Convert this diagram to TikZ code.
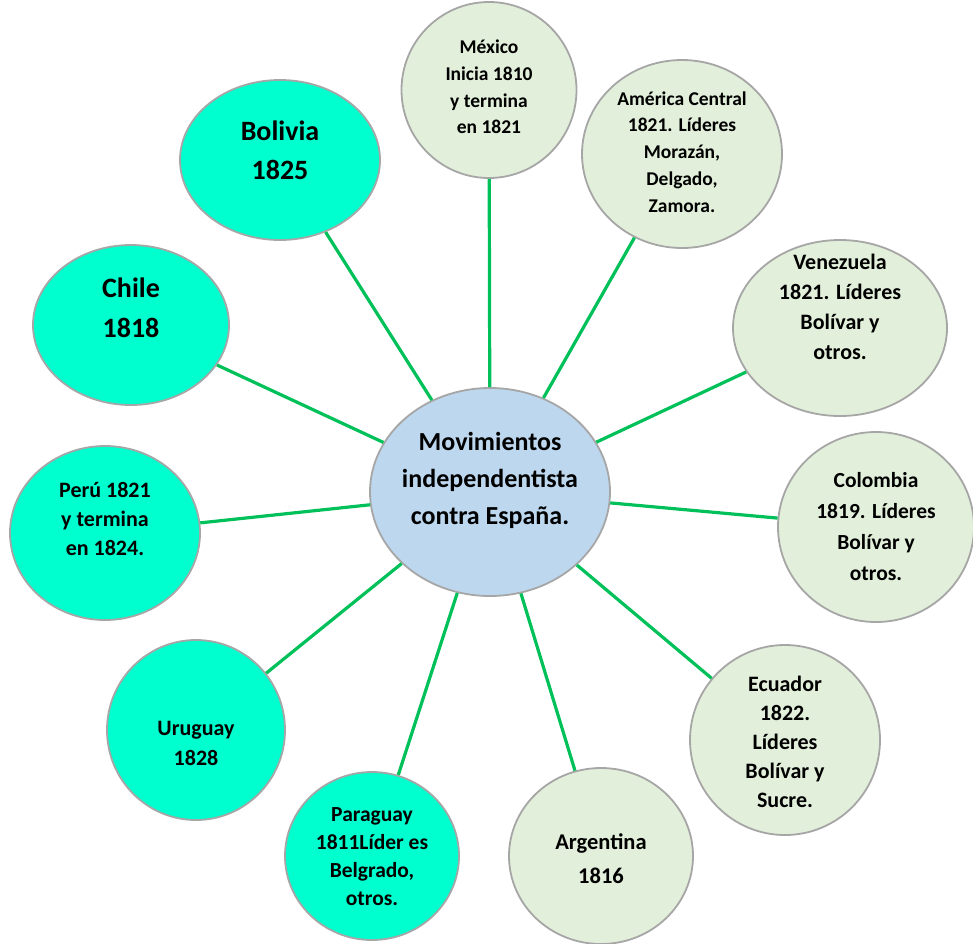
\documentclass[tikz,border=0pt]{standalone}
\usepackage{fontspec}
\setmainfont{Carlito}
\usepackage{tikz}
\usetikzlibrary{shapes.geometric}

\definecolor{palegreen}{HTML}{E2EFDA}
\definecolor{paleblue}{HTML}{BDD7EE}
\definecolor{aquagreen}{HTML}{00FFCF}
\definecolor{linkgreen}{HTML}{00C05A}
\definecolor{rimgray}{HTML}{A6A6A6}

\newcommand{\setfs}[2]{\fontsize{#1}{#2}\selectfont\bfseries}

\begin{document}
\begin{tikzpicture}[x=1pt, y=-1pt,
	bubble/.style={ellipse, draw=rimgray, line width=1.8pt, inner sep=0pt},
	pale/.style={bubble, fill=palegreen},
	aqua/.style={bubble, fill=aquagreen},
	hub/.style={bubble, fill=paleblue},
	link/.style={draw=linkgreen, line width=3.2pt}]

\useasboundingbox (0,0) rectangle (973,943);

% centre
\node[hub, minimum width=240pt, minimum height=208pt,
	label={[align=center, font=\setfs{26}{37}, yshift=12pt]center:Movimientos\\independentista\\contra España.}] (mov) at (490,492) {};

% right side (pale green)
\node[pale, minimum width=175pt, minimum height=176pt,
	label={[align=center, font=\setfs{19.5}{26.7}, yshift=3pt]center:México\\Inicia 1810\\y termina\\en 1821}] (mex) at (489,90) {};
\node[pale, minimum width=200pt, minimum height=188pt,
	label={[align=center, font=\setfs{19.5}{26.8}, yshift=2pt]center:América Central\\1821. Líderes\\Morazán,\\Delgado,\\Zamora.}] (amc) at (682,154) {};
\node[pale, minimum width=214pt, minimum height=176pt,
	label={[align=center, font=\setfs{22}{30}, yshift=21pt]center:Venezuela\\1821. Líderes\\Bolívar y\\otros.}] (ven) at (840,328) {};
\node[pale, minimum width=196pt, minimum height=190pt,
	label={[align=center, font=\setfs{21.5}{31}]center:Colombia\\1819. Líderes\\Bolívar y\\otros.}] (col) at (876,527) {};
\node[pale, minimum width=190pt, minimum height=190pt,
	label={[align=center, font=\setfs{22}{29}, yshift=-2pt]center:Ecuador\\1822.\\Líderes\\Bolívar y\\Sucre.}] (ecu) at (785,740) {};
\node[pale, minimum width=184pt, minimum height=176pt,
	label={[align=center, font=\setfs{22.5}{34}, yshift=-3pt]center:Argentina\\1816}] (arg) at (601,856) {};

% left side (aqua)
\node[aqua, minimum width=174pt, minimum height=168pt,
	label={[align=center, font=\setfs{21.5}{28}, yshift=-1pt]center:Paraguay\\1811Líder es\\Belgrado,\\otros.}] (par) at (372,856) {};
\node[aqua, minimum width=178pt, minimum height=180pt,
	label={[align=center, font=\setfs{22}{30}, yshift=-13pt]center:Uruguay\\1828}] (uru) at (196,730) {};
\node[aqua, minimum width=190pt, minimum height=174pt,
	label={[align=center, font=\setfs{22}{29}, yshift=14pt]center:Perú 1821\\y termina\\en 1824.}] (per) at (105,533) {};
\node[aqua, minimum width=196pt, minimum height=160pt,
	label={[align=center, font=\setfs{28}{40}, yshift=17pt]center:Chile\\1818}] (chi) at (131,325) {};
\node[aqua, minimum width=200pt, minimum height=160pt,
	label={[align=center, font=\setfs{28}{39}, yshift=10pt]center:Bolivia\\1825}] (bol) at (280,160) {};

% spokes
\foreach \n in {mex, amc, ven, col, ecu, arg, par, uru, per, chi, bol}
	\draw[link] (mov) -- (\n);

\end{tikzpicture}
\end{document}
